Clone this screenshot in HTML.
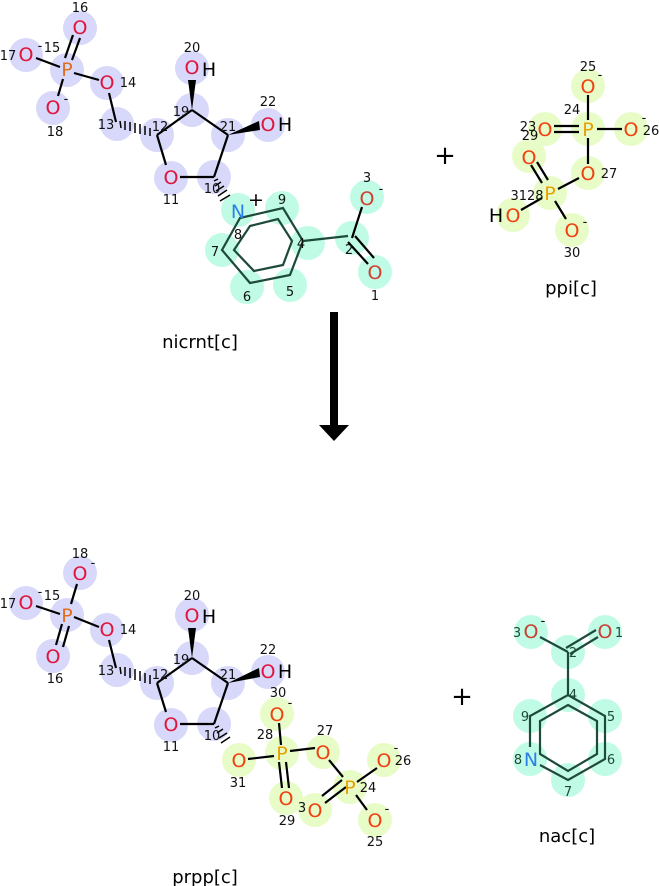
<!DOCTYPE html>
<html><head><meta charset="utf-8"><style>
html,body{margin:0;padding:0;background:#fff;}
svg{display:block;}
.l{font-family:"DejaVu Sans","Liberation Sans",sans-serif;font-size:13px;fill:#111;text-anchor:middle;}
.a{font-family:"DejaVu Sans","Liberation Sans",sans-serif;font-size:19px;text-anchor:middle;dominant-baseline:central;}
.t{font-family:"DejaVu Sans","Liberation Sans",sans-serif;font-size:18px;fill:#000;text-anchor:middle;}
.b line,.b polyline,.b polygon.r{stroke:#000;stroke-width:2.2;fill:none;}
.bg line,.bg polygon,.bg polyline{stroke:#1e4a3a;stroke-width:2.2;fill:none;}
</style></head><body>
<svg width="659" height="886" viewBox="0 0 659 886" xmlns="http://www.w3.org/2000/svg">
<!-- ============ nicrnt top ============ -->
<g fill="#d8d8fa">
<circle cx="80" cy="28" r="17"/><circle cx="26" cy="55" r="17"/><circle cx="67" cy="70" r="17"/>
<circle cx="107" cy="83" r="17"/><circle cx="53" cy="108" r="17"/><circle cx="117" cy="124" r="17"/>
<circle cx="157" cy="135" r="17"/><circle cx="192" cy="110" r="17"/><circle cx="192" cy="68" r="17"/>
<circle cx="228" cy="135" r="17"/><circle cx="268" cy="125" r="17"/><circle cx="171" cy="178" r="17"/>
<circle cx="214" cy="177" r="17"/>
</g>
<g fill="#c0fbe6">
<circle cx="238" cy="210" r="17"/><circle cx="282" cy="208" r="17"/><circle cx="222" cy="250" r="17"/>
<circle cx="247" cy="287" r="17"/><circle cx="290" cy="285" r="17"/><circle cx="308" cy="243" r="17"/>
<circle cx="352" cy="238" r="17"/><circle cx="367" cy="197" r="17"/><circle cx="375" cy="272" r="17"/>
</g>
<g class="b">
<line x1="65" y1="58" x2="73" y2="35"/><line x1="72" y1="60" x2="80" y2="38"/>
<line x1="36" y1="58" x2="60" y2="67"/><line x1="74" y1="73" x2="99" y2="80"/>
<line x1="63" y1="79" x2="58" y2="96"/><line x1="109" y1="93" x2="116" y2="122"/>
<line x1="157" y1="135" x2="192" y2="110"/><line x1="192" y1="110" x2="228" y2="135"/>
<line x1="228" y1="135" x2="214" y2="177"/><line x1="214" y1="177" x2="180" y2="177"/>
<line x1="166" y1="165" x2="157" y2="135"/>
<line x1="352" y1="238" x2="362" y2="207"/><line x1="348" y1="242" x2="368" y2="264"/><line x1="355" y1="236" x2="374" y2="258"/>
</g>
<g stroke="#000" stroke-width="1.5">
<line x1="120" y1="121" x2="121" y2="128"/><line x1="125" y1="121" x2="125" y2="130"/><line x1="130" y1="122" x2="130" y2="131"/>
<line x1="135" y1="123" x2="135" y2="133"/><line x1="140" y1="124" x2="140" y2="134"/><line x1="145" y1="126" x2="145" y2="135"/><line x1="150" y1="128" x2="150" y2="136"/>
<line x1="214" y1="181" x2="218" y2="179"/><line x1="215" y1="186" x2="221" y2="182"/><line x1="216" y1="191" x2="224" y2="186"/><line x1="218" y1="196" x2="227" y2="190"/><line x1="220" y1="201" x2="230" y2="195"/>
</g>
<polygon points="192,110 188,80 196,80" fill="#000"/>
<polygon points="228,135 259,121 260,130" fill="#000"/>
<g class="bg">
<polygon points="240,218 283,208 303,241 290,275 250,283 222,250"/>
<polygon points="250,226 278,219 292,241 283,265 254,271 234,250"/>
<line x1="303" y1="241" x2="348" y2="236"/>
</g>
<text class="a" x="80" y="28" fill="#e0143c">O</text>
<text class="a" x="26" y="55" fill="#e0143c">O</text>
<text class="a" x="67" y="70" fill="#e07020">P</text>
<text class="a" x="107" y="83" fill="#e0143c">O</text>
<text class="a" x="53" y="108" fill="#e0143c">O</text>
<text class="a" x="192" y="68" fill="#e0143c">O</text><text class="a" x="209" y="70" fill="#000">H</text>
<text class="a" x="268" y="125" fill="#e0143c">O</text><text class="a" x="285" y="125" fill="#000">H</text>
<text class="a" x="171" y="178" fill="#e0143c">O</text>
<text class="a" x="238" y="212" fill="#2a80e8">N</text><text class="a" x="256" y="200" fill="#000">+</text>
<text class="a" x="367" y="199" fill="#d04030">O</text>
<text class="a" x="375" y="273" fill="#d04030">O</text>
<g class="l">
<text x="80" y="12">16</text><text x="8" y="60">17</text><text x="40" y="50">-</text><text x="52" y="52">15</text>
<text x="128" y="87">14</text><text x="66" y="103">-</text><text x="55" y="136">18</text>
<text x="106" y="129">13</text><text x="160" y="131">12</text><text x="181" y="116">19</text>
<text x="192" y="52">20</text><text x="228" y="131">21</text><text x="268" y="106">22</text>
<text x="171" y="204">11</text><text x="212" y="193">10</text><text x="238" y="239">8</text>
<text x="282" y="204">9</text><text x="215" y="256">7</text><text x="247" y="301">6</text><text x="290" y="296">5</text>
<text x="301" y="248">4</text><text x="349" y="254">2</text><text x="367" y="182">3</text><text x="381" y="193">-</text>
<text x="375" y="300">1</text>
</g>
<text class="t" x="200" y="348">nicrnt[c]</text>

<!-- ============ ppi ============ -->
<text x="445" y="164" style="font-family:'DejaVu Sans',sans-serif;font-size:26px;text-anchor:middle;">+</text>
<g fill="#e8fcc8">
<circle cx="588" cy="86" r="17"/><circle cx="588" cy="129" r="17"/><circle cx="545" cy="129" r="17"/>
<circle cx="631" cy="129" r="17"/><circle cx="588" cy="173" r="17"/><circle cx="529" cy="156" r="17"/>
<circle cx="550" cy="193" r="17"/><circle cx="513" cy="215" r="17"/><circle cx="572" cy="230" r="17"/>
</g>
<g class="b">
<line x1="588" y1="95" x2="588" y2="120"/><line x1="554" y1="126" x2="579" y2="126"/><line x1="554" y1="132" x2="579" y2="132"/>
<line x1="597" y1="129" x2="622" y2="129"/><line x1="588" y1="138" x2="588" y2="164"/>
<line x1="579" y1="178" x2="558" y2="189"/><line x1="531" y1="165" x2="542" y2="183"/><line x1="537" y1="162" x2="548" y2="180"/>
<line x1="542" y1="198" x2="521" y2="210"/><line x1="555" y1="201" x2="566" y2="219"/>
</g>
<text class="a" x="588" y="87" fill="#f04010">O</text><text class="a" x="545" y="130" fill="#f04010">O</text>
<text class="a" x="631" y="130" fill="#f04010">O</text><text class="a" x="588" y="174" fill="#f04010">O</text>
<text class="a" x="529" y="158" fill="#f04010">O</text><text class="a" x="513" y="216" fill="#f04010">O</text>
<text class="a" x="572" y="231" fill="#f04010">O</text>
<text class="a" x="588" y="130" fill="#e8a000">P</text><text class="a" x="550" y="194" fill="#e8a000">P</text>
<text class="a" x="496" y="216" fill="#000">H</text>
<g class="l">
<text x="588" y="71">25</text><text x="600" y="79">-</text><text x="572" y="114">24</text>
<text x="528" y="131">23</text><text x="530" y="140">29</text><text x="644" y="122">-</text><text x="651" y="135">26</text>
<text x="609" y="178">27</text><text x="527" y="200">3128</text><text x="585" y="226">-</text><text x="572" y="257">30</text>
</g>
<text class="t" x="571" y="294">ppi[c]</text>

<!-- arrow -->
<rect x="330" y="312" width="8" height="115" fill="#000"/>
<polygon points="319,425 349,425 334,441" fill="#000"/>

<!-- ============ prpp ============ -->
<g fill="#d8d8fa">
<circle cx="80" cy="573" r="17"/><circle cx="26" cy="603" r="17"/><circle cx="67" cy="615" r="17"/>
<circle cx="107" cy="630" r="17"/><circle cx="53" cy="656" r="17"/><circle cx="117" cy="670" r="17"/>
<circle cx="157" cy="683" r="17"/><circle cx="192" cy="658" r="17"/><circle cx="192" cy="615" r="17"/>
<circle cx="228" cy="683" r="17"/><circle cx="268" cy="672" r="17"/><circle cx="171" cy="725" r="17"/>
<circle cx="214" cy="724" r="17"/>
</g>
<g fill="#e8fcc8">
<circle cx="239" cy="760" r="17"/><circle cx="282" cy="753" r="17"/><circle cx="277" cy="714" r="17"/>
<circle cx="323" cy="752" r="17"/><circle cx="286" cy="798" r="17"/><circle cx="350" cy="787" r="17"/>
<circle cx="315" cy="810" r="17"/><circle cx="384" cy="760" r="17"/><circle cx="375" cy="820" r="17"/>
</g>
<g class="b">
<line x1="77" y1="584" x2="71" y2="604"/><line x1="36" y1="606" x2="60" y2="614"/><line x1="74" y1="617" x2="99" y2="627"/>
<line x1="62" y1="624" x2="56" y2="645"/><line x1="69" y1="626" x2="63" y2="647"/>
<line x1="109" y1="640" x2="116" y2="668"/>
<line x1="157" y1="683" x2="192" y2="658"/><line x1="192" y1="658" x2="228" y2="683"/>
<line x1="228" y1="683" x2="214" y2="724"/><line x1="214" y1="724" x2="180" y2="724"/><line x1="166" y1="712" x2="157" y2="683"/>
<line x1="248" y1="759" x2="274" y2="756"/><line x1="279" y1="723" x2="281" y2="745"/>
<line x1="279" y1="762" x2="282" y2="788"/><line x1="286" y1="762" x2="289" y2="788"/>
<line x1="290" y1="751" x2="315" y2="748"/><line x1="329" y1="760" x2="343" y2="777"/>
<line x1="342" y1="780" x2="322" y2="796"/><line x1="346" y1="787" x2="325" y2="803"/>
<line x1="357" y1="782" x2="377" y2="768"/><line x1="356" y1="795" x2="367" y2="810"/>
</g>
<g stroke="#000" stroke-width="1.5">
<line x1="120" y1="667" x2="121" y2="674"/><line x1="125" y1="667" x2="125" y2="676"/><line x1="130" y1="668" x2="130" y2="678"/>
<line x1="135" y1="669" x2="135" y2="680"/><line x1="140" y1="671" x2="140" y2="681"/><line x1="145" y1="673" x2="145" y2="683"/><line x1="150" y1="675" x2="150" y2="684"/>
<line x1="215" y1="728" x2="219" y2="726"/><line x1="217" y1="733" x2="223" y2="729"/><line x1="219" y1="738" x2="227" y2="733"/><line x1="221" y1="743" x2="230" y2="737"/>
</g>
<polygon points="192,658 188,628 196,628" fill="#000"/>
<polygon points="228,683 259,668 260,677" fill="#000"/>
<text class="a" x="80" y="574" fill="#e0143c">O</text><text class="a" x="26" y="603" fill="#e0143c">O</text>
<text class="a" x="67" y="616" fill="#e07020">P</text><text class="a" x="107" y="630" fill="#e0143c">O</text>
<text class="a" x="53" y="657" fill="#e0143c">O</text>
<text class="a" x="192" y="616" fill="#e0143c">O</text><text class="a" x="209" y="617" fill="#000">H</text>
<text class="a" x="268" y="672" fill="#e0143c">O</text><text class="a" x="285" y="672" fill="#000">H</text>
<text class="a" x="171" y="725" fill="#e0143c">O</text>
<text class="a" x="239" y="761" fill="#f04010">O</text><text class="a" x="282" y="754" fill="#e8a000">P</text>
<text class="a" x="277" y="715" fill="#f04010">O</text><text class="a" x="323" y="753" fill="#f04010">O</text>
<text class="a" x="286" y="799" fill="#f04010">O</text><text class="a" x="350" y="788" fill="#e8a000">P</text>
<text class="a" x="315" y="811" fill="#f04010">O</text><text class="a" x="384" y="761" fill="#f04010">O</text>
<text class="a" x="375" y="821" fill="#f04010">O</text>
<g class="l">
<text x="80" y="558">18</text><text x="93" y="567">-</text><text x="8" y="608">17</text><text x="40" y="596">-</text><text x="52" y="600">15</text>
<text x="128" y="634">14</text><text x="55" y="683">16</text><text x="106" y="675">13</text><text x="160" y="679">12</text>
<text x="181" y="664">19</text><text x="192" y="600">20</text><text x="228" y="679">21</text><text x="268" y="654">22</text>
<text x="171" y="751">11</text><text x="212" y="740">10</text><text x="238" y="787">31</text>
<text x="278" y="697">30</text><text x="290" y="707">-</text><text x="265" y="739">28</text><text x="325" y="735">27</text>
<text x="287" y="825">29</text><text x="302" y="812">3</text><text x="368" y="792">24</text>
<text x="396" y="752">-</text><text x="403" y="765">26</text><text x="387" y="813">-</text><text x="375" y="846">25</text>
</g>
<text class="t" x="205" y="883">prpp[c]</text>

<!-- ============ nac ============ -->
<text x="462" y="705" style="font-family:'DejaVu Sans',sans-serif;font-size:26px;text-anchor:middle;">+</text>
<g fill="#c0fbe6">
<circle cx="531" cy="632" r="17"/><circle cx="605" cy="632" r="17"/><circle cx="568" cy="652" r="17"/>
<circle cx="568" cy="695" r="17"/><circle cx="530" cy="716" r="17"/><circle cx="605" cy="716" r="17"/>
<circle cx="605" cy="759" r="17"/><circle cx="530" cy="759" r="17"/><circle cx="568" cy="780" r="17"/>
</g>
<g class="bg">
<line x1="540" y1="637" x2="568" y2="652"/><line x1="566" y1="648" x2="596" y2="630"/><line x1="570" y1="654" x2="598" y2="637"/>
<line x1="568" y1="652" x2="568" y2="695"/>
<polyline points="530,747 530,716 568,695 605,716 605,759 568,780 540,765"/>
<polygon points="568,705 597,721 597,754 568,771 540,754 540,721"/>
</g>
<text class="a" x="531" y="632" fill="#c84030">O</text><text class="a" x="605" y="632" fill="#c84030">O</text>
<text class="a" x="531" y="760" fill="#2a80e8">N</text>
<g class="l" style="fill:#1e4a3a">
<text x="517" y="637">3</text><text x="543" y="625" style="fill:#000">-</text><text x="619" y="637">1</text>
<text x="573" y="657">2</text><text x="573" y="699">4</text><text x="525" y="721">9</text><text x="611" y="721">5</text>
<text x="611" y="764">6</text><text x="518" y="764">8</text><text x="568" y="796">7</text>
</g>
<text class="t" x="567" y="842">nac[c]</text>
</svg>
</body></html>
